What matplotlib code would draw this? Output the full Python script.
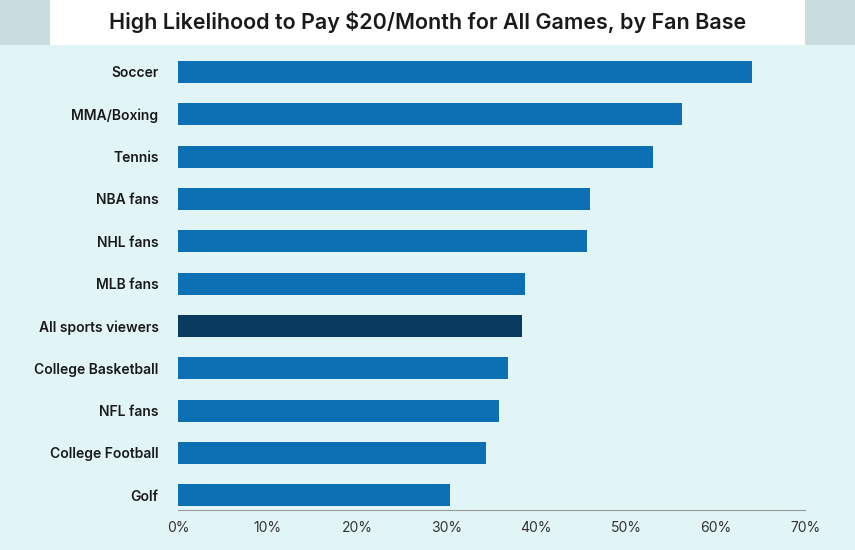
import matplotlib
matplotlib.use("Agg")
import matplotlib.pyplot as plt
from matplotlib.patches import Rectangle

categories = ["Soccer", "MMA/Boxing", "Tennis", "NBA fans", "NHL fans", "MLB fans",
              "All sports viewers", "College Basketball", "NFL fans", "College Football", "Golf"]
values = [64.1, 56.3, 53.0, 46.0, 45.7, 38.7, 38.4, 36.8, 35.8, 34.4, 30.4]
highlight = "All sports viewers"
xticks = [0, 10, 20, 30, 40, 50, 60, 70]
title = "High Likelihood to Pay $20/Month for All Games, by Fan Base"

plt.rcParams['font.family'] = ['Inter', 'DejaVu Sans']
bg = "#e1f4f6"
fig = plt.figure(figsize=(8.55, 5.5), dpi=100, facecolor=bg)
fig.patches.append(Rectangle((0, 1 - 45/550), 1, 45/550, transform=fig.transFigure,
                             facecolor="#c9dde1", edgecolor="none", zorder=0))
fig.patches.append(Rectangle((50/855, 1 - 45/550), 755/855, 45/550, transform=fig.transFigure,
                             facecolor="white", edgecolor="none", zorder=0))
fig.text(0.5, 1 - 22/550, title, ha="center", va="center", fontsize=15.5, fontweight="semibold", color="#1a1a1a")

ax = fig.add_axes([178/855, 1 - 510/550, 627/855, 458/550])
ax.set_facecolor(bg)
y = list(range(len(categories)))
colors = ["#0a3a60" if c == highlight else "#0d6fb4" for c in categories]
ax.barh(y, values, height=0.52, color=colors)
ax.set_ylim(10.35, -0.47)
ax.set_xlim(0, 70)
ax.set_yticks(y)
ax.set_yticklabels(categories, fontsize=10, fontweight="semibold", color="#1a1a1a")
ax.set_xticks(xticks)
ax.set_xticklabels([f"{t}%" for t in xticks], fontsize=10, color="#333333")
for s in ["top", "right", "left"]:
    ax.spines[s].set_visible(False)
ax.spines["bottom"].set_color("#999999")
ax.tick_params(axis="y", length=0, pad=14)
ax.tick_params(axis="x", length=0, pad=8)
fig.savefig("out.png", dpi=100, facecolor=bg)
